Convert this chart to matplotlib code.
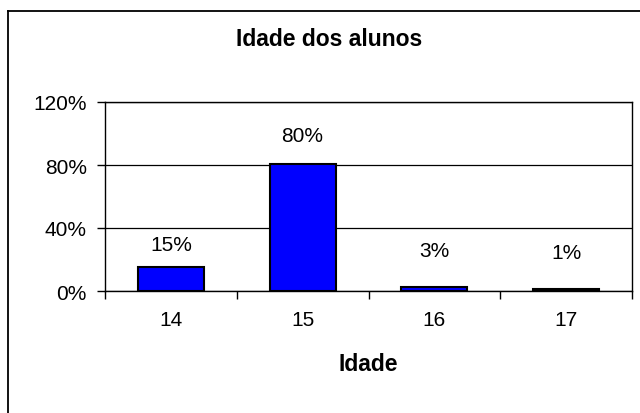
import matplotlib
matplotlib.use('agg')
from matplotlib import pyplot as plt
from matplotlib.lines import Line2D
from matplotlib.ticker import FixedLocator, FuncFormatter

plt.rcParams['font.family'] = ['Liberation Sans', 'DejaVu Sans']

ages = ['14', '15', '16', '17']
shares = [0.152, 0.804, 0.028, 0.012]
share_labels = ['15%', '80%', '3%', '1%']
label_offsets = [23, 29, 36, 37]  # px above bar top, as Excel placed them

W, H = 640, 414
fig = plt.figure(figsize=(W / 100, H / 100), dpi=100)
fig.patch.set_facecolor('white')

# outer chart border (right and bottom fall outside the picture)
fig.add_artist(Line2D([8 / W, 8 / W], [0, 1 - 12 / H], color='black', lw=1.3, transform=fig.transFigure))
fig.add_artist(Line2D([8 / W, 1], [1 - 12 / H, 1 - 12 / H], color='black', lw=1.3, transform=fig.transFigure))

left, right, top, bottom = 105, 632, 103, 292
ax = fig.add_axes([left / W, 1 - bottom / H, (right - left) / W, (bottom - top) / H])

x = list(range(len(ages)))
ax.bar(x, shares, width=0.5, color='#0000ff', edgecolor='black', linewidth=1.5, zorder=3)

for xi, v, lab, off in zip(x, shares, share_labels, label_offsets):
    ax.annotate(lab, (xi, v), xytext=(0, off * 0.72), textcoords='offset points',
                ha='center', va='center', fontsize=15)

ax.set_xlim(-0.5, len(ages) - 0.5)
ax.set_ylim(0, 1.2)
ax.yaxis.set_major_locator(FixedLocator([0, 0.4, 0.8, 1.2]))
ax.yaxis.set_major_formatter(FuncFormatter(lambda v, p: f'{v * 100:.0f}%'))
ax.grid(axis='y', color='black', linewidth=0.9, zorder=0)

ax.xaxis.set_major_locator(FixedLocator([i - 0.5 for i in range(len(ages) + 1)]))
ax.xaxis.set_major_formatter(FuncFormatter(lambda v, p: ''))
ax.xaxis.set_minor_locator(FixedLocator(x))
ax.set_xticklabels(ages, minor=True)
ax.tick_params(axis='x', which='major', direction='out', length=6, width=1, color='black')
ax.tick_params(axis='x', which='minor', length=0, pad=14, labelsize=15)
ax.tick_params(axis='y', direction='out', length=6, width=1, labelsize=15, pad=7)

for s in ax.spines.values():
    s.set_linewidth(1.0)
    s.set_color('black')

fig.text(329 / W, 1 - 40 / H, 'Idade dos alunos', ha='center', va='center', fontsize=16.5, fontweight='bold')
fig.text(368 / W, 1 - 365 / H, 'Idade', ha='center', va='center', fontsize=16.5, fontweight='bold')

fig.savefig('out.png', dpi=100)
